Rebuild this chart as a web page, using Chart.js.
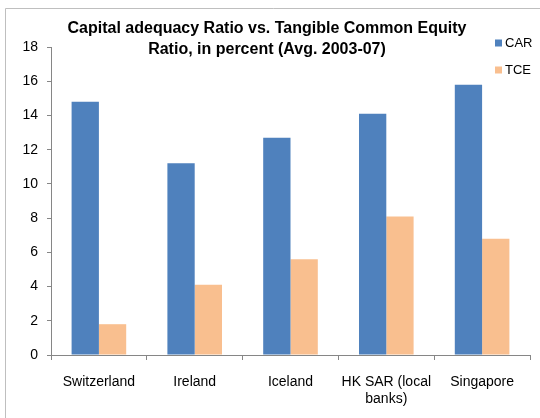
<!DOCTYPE html>
<html><head><meta charset="utf-8">
<script src="https://cdn.jsdelivr.net/npm/chart.js@4/dist/chart.umd.min.js"></script>
<style>html,body{margin:0;padding:0;background:#fff;}#wrap{position:relative;width:540px;height:418px;}</style>
</head><body><div id="wrap"><canvas id="c" width="540" height="418"></canvas></div>
<script>
const categories = ['Switzerland', 'Ireland', 'Iceland', ['HK SAR (local', 'banks)'], 'Singapore'];
const carValues = [14.8, 11.2, 12.7, 14.1, 15.8];
const tceValues = [1.8, 4.1, 5.6, 8.1, 6.8];
const seriesNames = ['CAR', 'TCE'];
const seriesColors = ['#4F81BD', '#F9BF8F'];
const yMin = 0, yMax = 18, yStep = 2;
const titleLines = ['Capital adequacy Ratio vs. Tangible Common Equity', 'Ratio, in percent (Avg. 2003-07)'];

const FONT = "'Liberation Sans', Arial, sans-serif";

const decor = {
  id: 'decor',
  afterDraw(chart) {
    const ctx = chart.ctx;
    ctx.save();
    ctx.strokeStyle = '#BFBFBF';
    ctx.lineWidth = 1;
    ctx.beginPath();
    ctx.moveTo(5.5, 420); ctx.lineTo(5.5, 8.5); ctx.lineTo(545, 8.5);
    ctx.stroke();
    ctx.fillStyle = '#000';
    ctx.font = 'bold 16px ' + FONT;
    ctx.textAlign = 'center';
    ctx.textBaseline = 'alphabetic';
    ctx.fillText(titleLines[0], 267, 33);
    ctx.fillText(titleLines[1], 267, 54);
    ctx.font = '13px ' + FONT;
    ctx.textAlign = 'left';
    ctx.textBaseline = 'middle';
    chart.data.datasets.forEach((ds, i) => {
      const yc = 43 + i * 27;
      ctx.fillStyle = ds.backgroundColor;
      ctx.fillRect(495, yc - 3.5, 7, 7);
      ctx.fillStyle = '#000';
      ctx.fillText(ds.label, 505, yc);
    });
    ctx.restore();
  }
};

new Chart(document.getElementById('c'), {
  type: 'bar',
  data: {
    labels: categories,
    datasets: [
      { label: seriesNames[0], data: carValues, backgroundColor: seriesColors[0] },
      { label: seriesNames[1], data: tceValues, backgroundColor: seriesColors[1] }
    ]
  },
  options: {
    responsive: false,
    animation: false,
    devicePixelRatio: 1,
    categoryPercentage: 0.57,
    barPercentage: 1,
    layout: { padding: { top: 47, right: 10, bottom: 0, left: 0 } },
    plugins: { legend: { display: false }, title: { display: false }, tooltip: { enabled: false } },
    scales: {
      x: {
        grid: { display: true, drawOnChartArea: false, drawTicks: true, tickLength: 5, color: '#868686', offset: true },
        border: { color: '#868686' },
        ticks: { font: { family: FONT, size: 14 }, color: '#000', padding: 14, maxRotation: 0, autoSkip: false },
        afterFit: s => { s.height = 63; }
      },
      y: {
        min: yMin, max: yMax,
        grid: { display: true, drawOnChartArea: false, drawTicks: true, tickLength: 4, color: '#868686' },
        border: { color: '#868686' },
        ticks: { stepSize: yStep, font: { family: FONT, size: 14 }, color: '#000', padding: 9 },
        afterFit: s => { s.width = 51; }
      }
    }
  },
  plugins: [decor]
});
</script></body></html>
